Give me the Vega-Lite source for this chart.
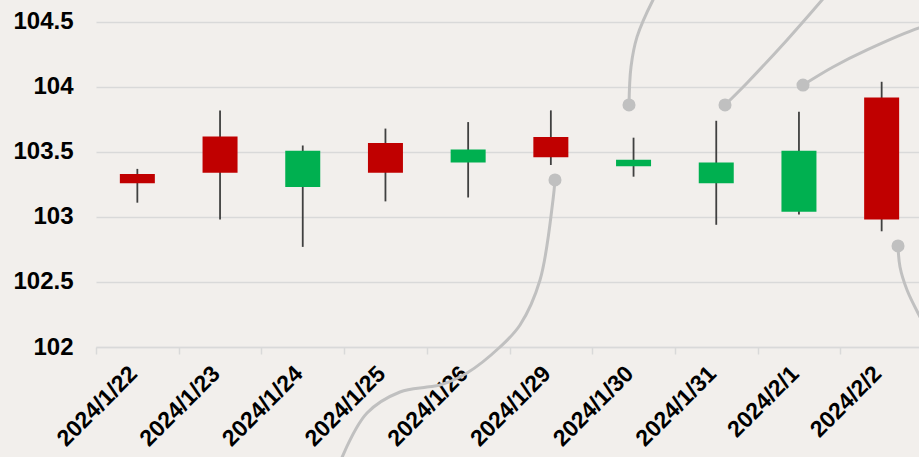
{
  "$schema": "https://vega.github.io/schema/vega-lite/v6.json",
  "width": 827,
  "height": 347,
  "autosize": {"type": "none"},
  "padding": {"left": 96, "top": 0, "right": 0, "bottom": 110},
  "background": "#f2efec",
  "config": {"view": {"stroke": null}, "font": "Liberation Sans"},
  "datasets": {
    "candles": [
      {"date": "2024/1/22", "open": 103.26, "close": 103.33, "high": 103.37, "low": 103.11},
      {"date": "2024/1/23", "open": 103.34, "close": 103.62, "high": 103.82, "low": 102.98},
      {"date": "2024/1/24", "open": 103.51, "close": 103.23, "high": 103.55, "low": 102.77},
      {"date": "2024/1/25", "open": 103.34, "close": 103.57, "high": 103.68, "low": 103.12},
      {"date": "2024/1/26", "open": 103.52, "close": 103.42, "high": 103.73, "low": 103.15},
      {"date": "2024/1/29", "open": 103.46, "close": 103.615, "high": 103.82, "low": 103.40},
      {"date": "2024/1/30", "open": 103.44, "close": 103.39, "high": 103.61, "low": 103.31},
      {"date": "2024/1/31", "open": 103.42, "close": 103.26, "high": 103.74, "low": 102.94},
      {"date": "2024/2/1", "open": 103.51, "close": 103.04, "high": 103.81, "low": 103.02},
      {"date": "2024/2/2", "open": 102.98, "close": 103.92, "high": 104.04, "low": 102.89}
    ],
    "curves": [
      {"curve": "A", "order": 1, "u": 5.55, "v": 103.285},
      {"curve": "A", "order": 2, "u": 5.526, "v": 103.131},
      {"curve": "A", "order": 3, "u": 5.369, "v": 102.515},
      {"curve": "A", "order": 4, "u": 5.127, "v": 102.169},
      {"curve": "A", "order": 5, "u": 4.885, "v": 102.0},
      {"curve": "A", "order": 6, "u": 4.486, "v": 101.8},
      {"curve": "A", "order": 7, "u": 4.16, "v": 101.708},
      {"curve": "A", "order": 8, "u": 4.002, "v": 101.692},
      {"curve": "A", "order": 9, "u": 3.676, "v": 101.654},
      {"curve": "A", "order": 10, "u": 3.277, "v": 101.492},
      {"curve": "A", "order": 11, "u": 2.987, "v": 101.169},
      {"curve": "A", "order": 12, "u": 2.926, "v": 101.054},
      {"curve": "B", "order": 1, "u": 6.445, "v": 103.862},
      {"curve": "B", "order": 2, "u": 6.469, "v": 104.154},
      {"curve": "B", "order": 3, "u": 6.542, "v": 104.385},
      {"curve": "B", "order": 4, "u": 6.735, "v": 104.669},
      {"curve": "B", "order": 5, "u": 6.82, "v": 104.762},
      {"curve": "C", "order": 1, "u": 7.606, "v": 103.862},
      {"curve": "C", "order": 2, "u": 7.872, "v": 104.031},
      {"curve": "C", "order": 3, "u": 8.356, "v": 104.362},
      {"curve": "C", "order": 4, "u": 8.779, "v": 104.669},
      {"curve": "C", "order": 5, "u": 8.9, "v": 104.76},
      {"curve": "D", "order": 1, "u": 8.549, "v": 104.015},
      {"curve": "D", "order": 2, "u": 8.912, "v": 104.154},
      {"curve": "D", "order": 3, "u": 9.323, "v": 104.285},
      {"curve": "D", "order": 4, "u": 9.952, "v": 104.454},
      {"curve": "D", "order": 5, "u": 10.145, "v": 104.485},
      {"curve": "E", "order": 1, "u": 9.698, "v": 102.777},
      {"curve": "E", "order": 2, "u": 9.722, "v": 102.615},
      {"curve": "E", "order": 3, "u": 9.807, "v": 102.438},
      {"curve": "E", "order": 4, "u": 9.952, "v": 102.246},
      {"curve": "E", "order": 5, "u": 10.085, "v": 102.092}
    ],
    "dots": [
      {"u": 5.55, "v": 103.285},
      {"u": 6.445, "v": 103.862},
      {"u": 7.606, "v": 103.862},
      {"u": 8.549, "v": 104.015},
      {"u": 9.698, "v": 102.777}
    ]
  },
  "layer": [
    {
      "data": {"name": "candles"},
      "transform": [{"calculate": "datum.close >= datum.open ? 'up' : 'down'", "as": "dir"}],
      "encoding": {
        "x": {
          "field": "date", "type": "nominal", "sort": null,
          "scale": {"paddingInner": 0, "paddingOuter": 0},
          "axis": {
            "title": null, "labelAngle": -45, "labelFontSize": 23, "labelFontWeight": "bold",
            "labelColor": "#000000", "labelPadding": 8, "labelOffset": -12, "tickBand": "extent", "tickSize": 7,
            "tickColor": "#d9d9d9", "tickWidth": 1.5, "domainColor": "#d9d9d9", "domainWidth": 1.5,
            "grid": false
          }
        }
      },
      "layer": [
        {
          "mark": {"type": "rule", "color": "#404040", "strokeWidth": 1.8},
          "encoding": {
            "y": {
              "field": "low", "type": "quantitative",
              "scale": {"domain": [102, 104.669], "nice": false, "zero": false},
              "axis": {
                "title": null, "values": [102, 102.5, 103, 103.5, 104, 104.5], "format": "~g",
                "labelFontSize": 24, "labelFontWeight": "bold", "labelColor": "#000000",
                "labelPadding": 23, "ticks": false, "domain": false,
                "gridColor": "#d9d9d9", "gridWidth": 1.5
              }
            },
            "y2": {"field": "high"}
          }
        },
        {
          "mark": {"type": "bar", "width": 35},
          "encoding": {
            "y": {
              "field": "open", "type": "quantitative",
              "scale": {"domain": [102, 104.669], "nice": false, "zero": false},
              "axis": {
                "title": null, "values": [102, 102.5, 103, 103.5, 104, 104.5], "format": "~g",
                "labelFontSize": 24, "labelFontWeight": "bold", "labelColor": "#000000",
                "labelPadding": 23, "ticks": false, "domain": false,
                "gridColor": "#d9d9d9", "gridWidth": 1.5
              }
            },
            "y2": {"field": "close"},
            "color": {
              "field": "dir", "type": "nominal",
              "scale": {"domain": ["up", "down"], "range": ["#C00000", "#00B050"]},
              "legend": null
            }
          }
        }
      ]
    },
    {
      "layer": [
        {
          "data": {"name": "curves"},
          "mark": {"type": "line", "color": "#c0c0c0", "strokeWidth": 3, "interpolate": "catmull-rom"},
          "encoding": {
            "x": {"field": "u", "type": "quantitative", "scale": {"domain": [0, 10], "nice": false, "zero": false}, "axis": null},
            "y": {
              "field": "v", "type": "quantitative",
              "scale": {"domain": [102, 104.669], "nice": false, "zero": false},
              "axis": {
                "title": null, "values": [102, 102.5, 103, 103.5, 104, 104.5], "format": "~g",
                "labelFontSize": 24, "labelFontWeight": "bold", "labelColor": "#000000",
                "labelPadding": 23, "ticks": false, "domain": false,
                "gridColor": "#d9d9d9", "gridWidth": 1.5
              }
            },
            "detail": {"field": "curve", "type": "nominal"},
            "order": {"field": "order", "type": "quantitative"}
          }
        },
        {
          "data": {"name": "dots"},
          "mark": {"type": "circle", "color": "#c0c0c0", "opacity": 1, "size": 170},
          "encoding": {
            "x": {"field": "u", "type": "quantitative", "scale": {"domain": [0, 10], "nice": false, "zero": false}, "axis": null},
            "y": {
              "field": "v", "type": "quantitative",
              "scale": {"domain": [102, 104.669], "nice": false, "zero": false},
              "axis": {
                "title": null, "values": [102, 102.5, 103, 103.5, 104, 104.5], "format": "~g",
                "labelFontSize": 24, "labelFontWeight": "bold", "labelColor": "#000000",
                "labelPadding": 23, "ticks": false, "domain": false,
                "gridColor": "#d9d9d9", "gridWidth": 1.5
              }
            }
          }
        }
      ]
    }
  ],
  "resolve": {"scale": {"x": "independent"}, "axis": {"x": "independent"}}
}
